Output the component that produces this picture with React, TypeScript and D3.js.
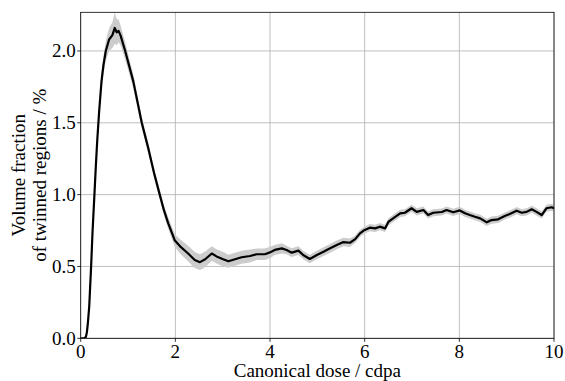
import React from "react";
import * as d3 from "d3";

const dose = [0, 0.08, 0.11, 0.13, 0.15, 0.18, 0.22, 0.25, 0.29, 0.32, 0.35, 0.39, 0.44, 0.48, 0.53, 0.60, 0.67, 0.72, 0.76, 0.80, 0.84, 0.94, 1.11, 1.29, 1.43, 1.55, 1.67, 1.76, 1.85, 1.99, 2.10, 2.27, 2.41, 2.52, 2.63, 2.77, 2.87, 3.01, 3.12, 3.26, 3.40, 3.58, 3.72, 3.89, 4.0, 4.1, 4.25, 4.35, 4.46, 4.60, 4.70, 4.84, 4.99, 5.13, 5.27, 5.41, 5.55, 5.69, 5.80, 5.90, 6.0, 6.11, 6.22, 6.32, 6.43, 6.50, 6.60, 6.75, 6.85, 6.99, 7.10, 7.24, 7.34, 7.45, 7.63, 7.73, 7.87, 8.01, 8.12, 8.22, 8.33, 8.44, 8.58, 8.68, 8.82, 8.96, 9.10, 9.21, 9.32, 9.42, 9.53, 9.63, 9.74, 9.84, 9.95, 10.0];
const fraction = [0, 0, 0.01, 0.04, 0.1, 0.22, 0.5, 0.74, 1.0, 1.2, 1.38, 1.58, 1.79, 1.9, 2.0, 2.08, 2.11, 2.16, 2.13, 2.14, 2.11, 2.0, 1.79, 1.5, 1.32, 1.15, 1.0, 0.89, 0.8, 0.68, 0.64, 0.59, 0.545, 0.53, 0.55, 0.59, 0.57, 0.55, 0.536, 0.55, 0.564, 0.573, 0.585, 0.585, 0.598, 0.615, 0.626, 0.615, 0.596, 0.61, 0.58, 0.552, 0.58, 0.603, 0.626, 0.65, 0.67, 0.665, 0.69, 0.73, 0.754, 0.77, 0.765, 0.777, 0.765, 0.81, 0.835, 0.87, 0.874, 0.905, 0.88, 0.893, 0.858, 0.874, 0.879, 0.893, 0.877, 0.89, 0.87, 0.858, 0.846, 0.835, 0.807, 0.823, 0.828, 0.851, 0.87, 0.888, 0.874, 0.88, 0.898, 0.88, 0.858, 0.905, 0.912, 0.905];
const spread = [0, 0, 0.005, 0.01, 0.012, 0.015, 0.02, 0.025, 0.03, 0.035, 0.04, 0.05, 0.06, 0.065, 0.07, 0.08, 0.09, 0.11, 0.09, 0.08, 0.07, 0.06, 0.05, 0.04, 0.035, 0.035, 0.035, 0.035, 0.04, 0.045, 0.05, 0.055, 0.055, 0.055, 0.055, 0.05, 0.05, 0.05, 0.045, 0.045, 0.045, 0.045, 0.04, 0.04, 0.04, 0.035, 0.035, 0.03, 0.03, 0.03, 0.03, 0.03, 0.03, 0.03, 0.03, 0.03, 0.03, 0.03, 0.025, 0.025, 0.025, 0.025, 0.025, 0.025, 0.025, 0.025, 0.025, 0.025, 0.025, 0.025, 0.025, 0.025, 0.025, 0.025, 0.025, 0.025, 0.025, 0.025, 0.025, 0.025, 0.025, 0.025, 0.025, 0.025, 0.025, 0.025, 0.025, 0.025, 0.025, 0.025, 0.025, 0.025, 0.025, 0.025, 0.025, 0.025];
const xTicks = [0, 2, 4, 6, 8, 10];
const yTicks = [0, 0.5, 1.0, 1.5, 2.0];

const W = 565, H = 381;
const L = 80.7, R = 554, T = 12.3, B = 338.3;

function Label(props: { x: number; y: number; anchor: string; children: React.ReactNode }) {
  return (
    <text x={props.x} y={props.y} textAnchor={props.anchor} fontFamily="Liberation Serif" fontSize="19px"
      style={{ fontFamily: "Liberation Serif", fontSize: "19px" }} fill="#000">
      {props.children}
    </text>
  );
}

export default function App() {
  const x = d3.scaleLinear().domain([0, 10]).range([L, R]);
  const y = d3.scaleLinear().domain([0, 2.269]).range([B, T]);
  const idx = dose.map((_, i) => i);
  const area = d3.area<number>()
    .x((i) => x(dose[i]))
    .y0((i) => y(Math.max(0, fraction[i] - spread[i])))
    .y1((i) => y(fraction[i] + spread[i]));
  const line = d3.line<number>().x((i) => x(dose[i])).y((i) => y(fraction[i]));

  return (
    <svg width={W} height={H} style={{ position: "absolute", left: 0, top: 0 }}>
      <rect x={0} y={0} width={W} height={H} fill="#fff" />
      <defs>
        <clipPath id="plot"><rect x={L} y={T} width={R - L} height={B - T} /></clipPath>
      </defs>
      {xTicks.map((t) => (
        <line key={"gx" + t} x1={x(t)} x2={x(t)} y1={T} y2={B} stroke="#b0b0b0" strokeWidth={0.8} />
      ))}
      {yTicks.map((t) => (
        <line key={"gy" + t} x1={L} x2={R} y1={y(t)} y2={y(t)} stroke="#b0b0b0" strokeWidth={0.8} />
      ))}
      <g clipPath="url(#plot)">
        <path d={area(idx) || ""} fill="#cccccc" stroke="none" />
        <path d={line(idx) || ""} fill="none" stroke="#000" strokeWidth={2.2} strokeLinejoin="round" />
      </g>
      <rect x={L} y={T} width={R - L} height={B - T} fill="none" stroke="#000" strokeWidth={0.8} />
      {xTicks.map((t) => (
        <g key={"tx" + t}>
          <line x1={x(t)} x2={x(t)} y1={B} y2={B + 3.5} stroke="#000" strokeWidth={0.8} />
          <Label x={x(t)} y={358} anchor="middle">{t}</Label>
        </g>
      ))}
      {yTicks.map((t) => (
        <g key={"ty" + t}>
          <line x1={L - 3.5} x2={L} y1={y(t)} y2={y(t)} stroke="#000" strokeWidth={0.8} />
          <Label x={L - 5} y={y(t) + 6.5} anchor="end">{t.toFixed(1)}</Label>
        </g>
      ))}
      <Label x={(L + R) / 2} y={377} anchor="middle">Canonical dose / cdpa</Label>
      <g transform={`translate(25, ${(T + B) / 2}) rotate(-90)`}>
        <Label x={0} y={0} anchor="middle">Volume fraction</Label>
      </g>
      <g transform={`translate(46, ${(T + B) / 2}) rotate(-90)`}>
        <Label x={0} y={0} anchor="middle">of twinned regions / %</Label>
      </g>
    </svg>
  );
}
